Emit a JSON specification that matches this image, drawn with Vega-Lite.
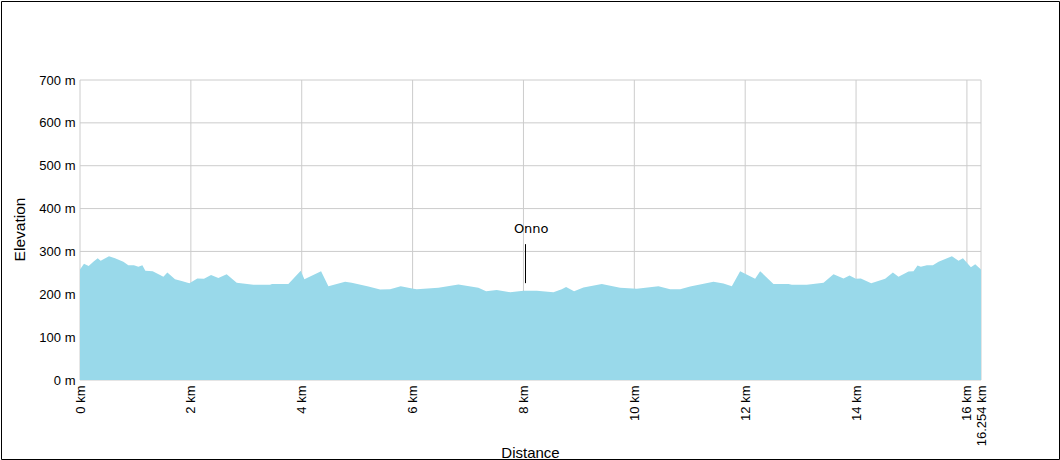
{
  "$schema": "https://vega.github.io/schema/vega-lite/v6.json",
  "description": "Elevation profile along a route",
  "width": 1058,
  "height": 458,
  "padding": 1,
  "autosize": "none",
  "background": "white",
  "datasets": {
    "profile": [
      {"distance": 0, "elevation": 258}, {"distance": 0.072, "elevation": 271}, {"distance": 0.156, "elevation": 266},
      {"distance": 0.241, "elevation": 276}, {"distance": 0.319, "elevation": 284}, {"distance": 0.373, "elevation": 278},
      {"distance": 0.523, "elevation": 289}, {"distance": 0.632, "elevation": 284}, {"distance": 0.782, "elevation": 276},
      {"distance": 0.872, "elevation": 268}, {"distance": 0.974, "elevation": 268}, {"distance": 1.053, "elevation": 264},
      {"distance": 1.125, "elevation": 268}, {"distance": 1.179, "elevation": 255}, {"distance": 1.311, "elevation": 254},
      {"distance": 1.444, "elevation": 245}, {"distance": 1.504, "elevation": 241}, {"distance": 1.576, "elevation": 251},
      {"distance": 1.714, "elevation": 235}, {"distance": 1.834, "elevation": 231}, {"distance": 1.973, "elevation": 226},
      {"distance": 2.117, "elevation": 237}, {"distance": 2.237, "elevation": 236}, {"distance": 2.364, "elevation": 245},
      {"distance": 2.496, "elevation": 238}, {"distance": 2.646, "elevation": 247}, {"distance": 2.827, "elevation": 227},
      {"distance": 3.128, "elevation": 222}, {"distance": 3.428, "elevation": 222}, {"distance": 3.464, "elevation": 224},
      {"distance": 3.759, "elevation": 224}, {"distance": 3.982, "elevation": 255}, {"distance": 4.048, "elevation": 235},
      {"distance": 4.349, "elevation": 254}, {"distance": 4.481, "elevation": 219}, {"distance": 4.782, "elevation": 229},
      {"distance": 4.902, "elevation": 227}, {"distance": 5.203, "elevation": 218}, {"distance": 5.413, "elevation": 211},
      {"distance": 5.594, "elevation": 212}, {"distance": 5.786, "elevation": 219}, {"distance": 6.015, "elevation": 213},
      {"distance": 6.075, "elevation": 212}, {"distance": 6.466, "elevation": 215}, {"distance": 6.827, "elevation": 223},
      {"distance": 7.187, "elevation": 215}, {"distance": 7.326, "elevation": 207}, {"distance": 7.518, "elevation": 210},
      {"distance": 7.759, "elevation": 205}, {"distance": 8, "elevation": 208}, {"distance": 8.24, "elevation": 208},
      {"distance": 8.541, "elevation": 205}, {"distance": 8.691, "elevation": 212}, {"distance": 8.769, "elevation": 217},
      {"distance": 8.913, "elevation": 207}, {"distance": 9.082, "elevation": 216}, {"distance": 9.413, "elevation": 224},
      {"distance": 9.744, "elevation": 215}, {"distance": 10.044, "elevation": 213}, {"distance": 10.435, "elevation": 219},
      {"distance": 10.646, "elevation": 212}, {"distance": 10.827, "elevation": 212}, {"distance": 11.007, "elevation": 218},
      {"distance": 11.428, "elevation": 229}, {"distance": 11.608, "elevation": 225}, {"distance": 11.759, "elevation": 219},
      {"distance": 11.909, "elevation": 254}, {"distance": 12.179, "elevation": 236}, {"distance": 12.27, "elevation": 254},
      {"distance": 12.51, "elevation": 224}, {"distance": 12.781, "elevation": 224}, {"distance": 12.841, "elevation": 222},
      {"distance": 13.112, "elevation": 222}, {"distance": 13.413, "elevation": 227}, {"distance": 13.593, "elevation": 247},
      {"distance": 13.774, "elevation": 237}, {"distance": 13.882, "elevation": 244}, {"distance": 13.996, "elevation": 236},
      {"distance": 14.086, "elevation": 237}, {"distance": 14.273, "elevation": 226}, {"distance": 14.525, "elevation": 236},
      {"distance": 14.664, "elevation": 251}, {"distance": 14.766, "elevation": 241}, {"distance": 14.947, "elevation": 253},
      {"distance": 15.037, "elevation": 254}, {"distance": 15.109, "elevation": 267}, {"distance": 15.169, "elevation": 264},
      {"distance": 15.278, "elevation": 268}, {"distance": 15.386, "elevation": 268}, {"distance": 15.488, "elevation": 276},
      {"distance": 15.729, "elevation": 289}, {"distance": 15.849, "elevation": 278}, {"distance": 15.928, "elevation": 284},
      {"distance": 16.072, "elevation": 263}, {"distance": 16.15, "elevation": 270}, {"distance": 16.254, "elevation": 258}
    ],
    "vgrid": [
      {"distance": 0}, {"distance": 2}, {"distance": 4}, {"distance": 6}, {"distance": 8}, {"distance": 10},
      {"distance": 12}, {"distance": 14}, {"distance": 16}, {"distance": 16.254}
    ],
    "hgrid": [
      {"elevation": 0}, {"elevation": 100}, {"elevation": 200}, {"elevation": 300}, {"elevation": 400},
      {"elevation": 500}, {"elevation": 600}, {"elevation": 700}
    ],
    "places": [
      {"distance": 8.037, "low": 226, "high": 317, "labelAt": 8.14, "labelY": 344, "name": "Onno"}
    ]
  },
  "layer": [
    {
      "data": {"name": "vgrid"},
      "mark": {"type": "rule", "color": "#cccccc", "strokeWidth": 1},
      "encoding": {
        "x": {"field": "distance", "type": "quantitative"},
        "y": {"datum": 0, "type": "quantitative"},
        "y2": {"datum": 700}
      }
    },
    {
      "data": {"name": "hgrid"},
      "mark": {"type": "rule", "color": "#cccccc", "strokeWidth": 1},
      "encoding": {
        "y": {"field": "elevation", "type": "quantitative"},
        "x": {"datum": 0, "type": "quantitative"},
        "x2": {"datum": 16.254}
      }
    },
    {
      "data": {"name": "profile"},
      "mark": {"type": "area", "color": "#99d9ea", "opacity": 1},
      "encoding": {
        "x": {
          "field": "distance",
          "type": "quantitative",
          "scale": {"domain": [0, 16.254], "range": [79, 980], "nice": false, "zero": false},
          "axis": {
            "title": "Distance",
            "titleFont": "Liberation Sans",
            "titleFontSize": 15,
            "titleFontWeight": "normal",
            "titleColor": "#000000",
            "titleX": 529,
            "titleY": 77,
            "titleBaseline": "alphabetic",
            "offset": -79,
            "domain": false,
            "ticks": false,
            "grid": false,
            "values": [0, 2, 4, 6, 8, 10, 12, 14, 16, 16.254],
            "labelExpr": "datum.value + ' km'",
            "labelAngle": -90,
            "labelAlign": "right",
            "labelBaseline": "middle",
            "labelPadding": 5,
            "labelOverlap": false,
            "labelBound": false,
            "labelFlush": false,
            "labelFont": "Liberation Sans",
            "labelFontSize": 13,
            "labelColor": "#000000"
          }
        },
        "y": {
          "field": "elevation",
          "type": "quantitative",
          "scale": {"domain": [0, 700], "range": [379, 79], "nice": false},
          "axis": {
            "title": "Elevation",
            "titleFont": "Liberation Sans",
            "titleFontSize": 15.5,
            "titleFontWeight": "normal",
            "titleColor": "#000000",
            "titleX": -56,
            "titleY": 228,
            "titleBaseline": "alphabetic",
            "offset": -79,
            "domain": false,
            "ticks": false,
            "grid": false,
            "values": [0, 100, 200, 300, 400, 500, 600, 700],
            "labelExpr": "datum.value + ' m'",
            "labelPadding": 5,
            "labelOverlap": false,
            "labelBound": false,
            "labelFlush": false,
            "labelFont": "Liberation Sans",
            "labelFontSize": 13,
            "labelColor": "#000000"
          }
        }
      }
    },
    {
      "data": {"name": "places"},
      "mark": {"type": "rule", "color": "#000000", "strokeWidth": 1},
      "encoding": {
        "x": {"field": "distance", "type": "quantitative"},
        "y": {"field": "low", "type": "quantitative"},
        "y2": {"field": "high"}
      }
    },
    {
      "data": {"name": "places"},
      "mark": {"type": "text", "font": "DejaVu Sans", "fontSize": 13, "color": "#000000", "align": "center", "baseline": "alphabetic"},
      "encoding": {
        "x": {"field": "labelAt", "type": "quantitative"},
        "y": {"field": "labelY", "type": "quantitative"},
        "text": {"field": "name", "type": "nominal"}
      }
    }
  ],
  "config": {"view": {"stroke": "#000000", "strokeWidth": 1}}
}
